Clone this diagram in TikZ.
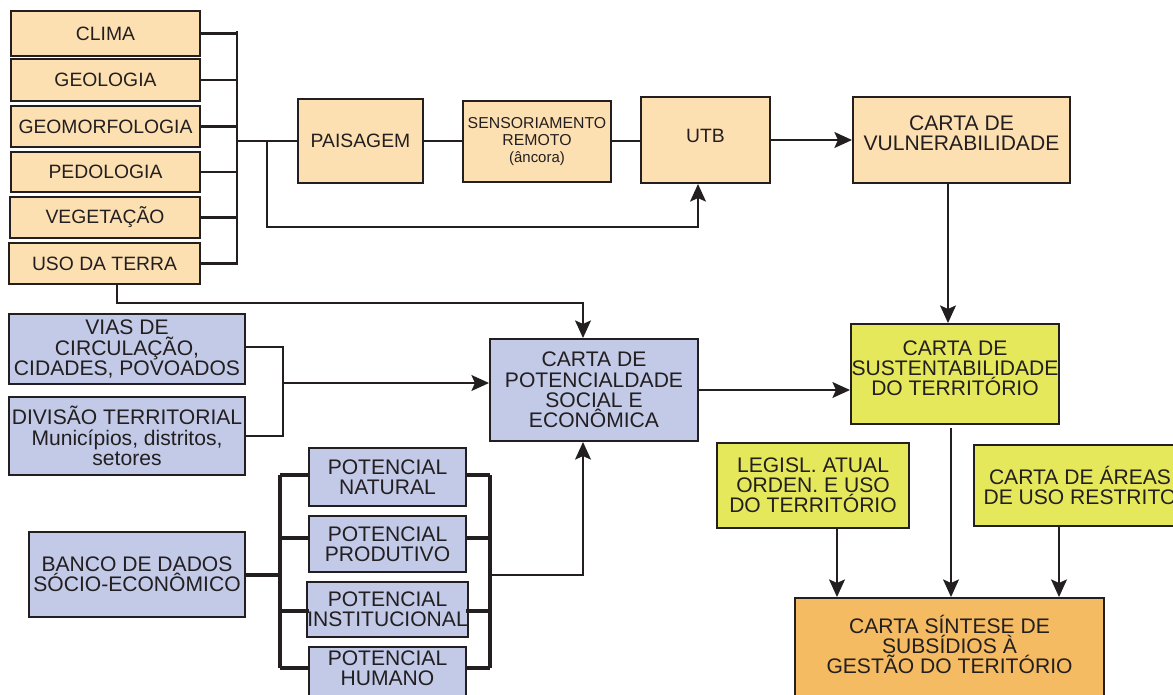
\documentclass[tikz,border=0pt]{standalone}
\usepackage{fontspec}
\setmainfont{Liberation Sans}
\usetikzlibrary{arrows.meta}
\definecolor{ink}{HTML}{231F20}
\definecolor{peach}{HTML}{FDE0B2}
\definecolor{lblue}{HTML}{C3CAE8}
\definecolor{yel}{HTML}{E6E85C}
\definecolor{orng}{HTML}{F4BB62}
\begin{document}
\begin{tikzpicture}[x=0.02cm,y=-0.02cm,
  rect/.style args={#1/#2/#3/#4}{minimum width={(#3-#1)*0.02cm}, minimum height={(#4-#2)*0.02cm},
    at={({(#1+#3)/2},{(#2+#4)/2})}},
  box/.style={draw=ink, line width=1.1pt, inner sep=0pt, align=center, text=ink,
    font=\fontsize{12}{11.5}\selectfont},
  pbox/.style={box, fill=peach},
  bbox/.style={box, fill=lblue},
  ybox/.style={box, fill=yel},
  obox/.style={box, fill=orng},
  raised/.style={text depth=#1},
  colfont/.style={font=\fontsize{11}{12}\selectfont},
  con/.style={draw=ink, line width=1.3pt},
  arr/.style={con, -{Stealth[length=10pt,width=9pt,inset=2pt]}},
  brk/.style={draw=ink, line width=2.2pt}]
\useasboundingbox (0,0) rectangle (1173,694);
\path[clip] (0,0) rectangle (1173,694);
\fill[white] (0,0) rectangle (1173,694);

% left column
\node[pbox, colfont, rect=11/11/200/56] (clima) {CLIMA};
\node[pbox, colfont, rect=11/59/200/101] (geol) {GEOLOGIA};
\node[pbox, colfont, rect=11/106/200/147] (geom) {GEOMORFOLOGIA};
\node[pbox, colfont, rect=11/152/200/192] (pedo) {PEDOLOGIA};
\node[pbox, colfont, rect=10/197/200/238] (veg) {VEGETAÇÃO};
\node[pbox, colfont, rect=9/243/200/284] (uso) {USO DA TERRA};

% top row
\node[pbox, colfont, rect=298/99/423/183] (pais) {PAISAGEM};
\node[pbox, font=\fontsize{9}{9.5}\selectfont, rect=463/101/611/182] (sens)
  {SENSORIAMENTO\\REMOTO\\{\fontsize{8.5}{9.5}\selectfont(âncora)}};
\node[pbox, colfont, raised=5pt, rect=641/97/770/183] (utb) {UTB};
\node[pbox, raised=8pt, rect=853/97/1070/183] (vuln) {CARTA DE\\VULNERABILIDADE};

% blue boxes
\node[bbox, rect=9/314/245/384] (vias) {VIAS DE\\CIRCULAÇÃO,\\CIDADES, POVOADOS};
\node[bbox, rect=9/397/245/475] (div) {DIVISÃO TERRITORIAL\\Municípios, distritos,\\setores};
\node[bbox, rect=490/339/698/441] (pot) {CARTA DE\\POTENCIALDADE\\SOCIAL E\\ECONÔMICA};
\node[bbox, rect=29/532/245/617] (banco) {BANCO DE DADOS\\SÓCIO-ECONÔMICO};
\node[bbox, rect=309/448/466/506] (nat) {POTENCIAL\\NATURAL};
\node[bbox, rect=309/516/466/572] (prod) {POTENCIAL\\PRODUTIVO};
\node[bbox, rect=309/582/466/637] (inst) {POTENCIAL\\INSTITUCIONAL};
\node[bbox, raised=9pt, rect=309/647/466/705] (hum) {POTENCIAL\\HUMANO};

% right side
\node[ybox, raised=7pt, rect=851/324/1059/424] (sust) {CARTA DE\\SUSTENTABILIDADE\\DO TERRITÓRIO};
\node[ybox, rect=717/443/909/528] (legis) {LEGISL. ATUAL\\ORDEN. E USO\\DO TERRITÓRIO};
\node[ybox, rect=974/445/1186/526] (areas) {CARTA DE ÁREAS\\DE USO RESTRITO};
\node[obox, raised=8pt, rect=795/598/1104/705] (sint) {CARTA SÍNTESE DE\\SUBSÍDIOS À\\GESTÃO DO TERITÓRIO};

% helper coordinates
\coordinate (jx) at (237,0);
\coordinate (jT) at (237,31);
\coordinate (jB) at (237,265);
\coordinate (jm) at (237,141);
\coordinate (br) at (267,141);
\coordinate (brd) at (267,227);
\coordinate (ux) at (698,227);
\coordinate (vx) at (948,0);
\coordinate (usx) at (117,303);
\coordinate (px) at (583,303);
\coordinate (vb) at (283,0);
\coordinate (va) at (283,383);
\coordinate (lb) at (280,0);
\coordinate (rb) at (490,0);
\coordinate (rm) at (490,575);
\coordinate (sx) at (951,428);
\coordinate (lx) at (837,0);
\coordinate (ax) at (1059,0);
\coordinate (ty) at (0,141);

% left column connectors
\foreach \n in {clima,geol,geom,pedo,veg,uso}
  \draw[con] (\n.east) -- (\n.east -| jx);
\draw[con] (jT) -- (jB);
\draw[con] (jm) -- (pais.west |- ty);
\draw[con] (pais.east |- ty) -- (sens.west |- ty);
\draw[con] (sens.east |- ty) -- (utb.west |- ty);
\draw[arr] (utb.east) -- (utb.east -| vuln.west);
\draw[arr] (br) -- (brd) -- (ux) -- (ux |- utb.south);
\draw[arr] (vuln.south -| vx) -- (sust.north -| vx);

% USO DA TERRA to carta de potencialidade
\draw[arr] (uso.south -| usx) -- (usx) -- (px) -- (px |- pot.north);

% vias / divisao bracket
\draw[con] (vias.east) ++(0,-2) -| (vb |- div.east) -- (div.east);
\draw[arr] (va) -- (va -| pot.west);
\draw[arr] (pot.east) -- (pot.east -| sust.west);

% banco de dados brackets
\draw[brk] (banco.east |- rm) -- (lb |- rm);
\draw[brk] (lb |- 0,475) -- (lb |- 0,668);
\draw[brk] (rb |- 0,475) -- (rb |- 0,668);
\foreach \yy in {475,538,611,668} {
  \draw[brk] (lb |- 0,\yy) -- (309,\yy);
  \draw[brk] (466,\yy) -- (rb |- 0,\yy);
}
\draw[arr] (rm) -- (px |- rm) -- (px |- pot.south);

% to sintese
\draw[arr] (legis.south -| lx) -- (sint.north -| lx);
\draw[arr] (sx) -- (sx |- sint.north);
\draw[arr] (areas.south -| ax) -- (sint.north -| ax);
\end{tikzpicture}
\end{document}
